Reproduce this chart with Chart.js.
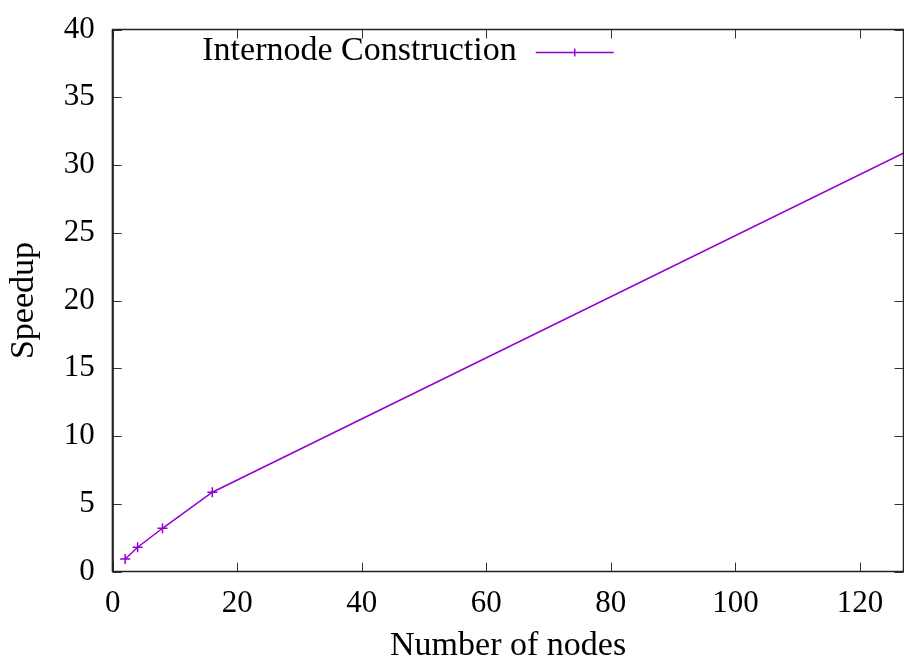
<!DOCTYPE html>
<html>
<head>
<meta charset="utf-8">
<title>Internode Construction speedup</title>
<script src="https://cdn.jsdelivr.net/npm/chart.js@4.4.1/dist/chart.umd.min.js"></script>
<style>
  html, body { margin: 0; padding: 0; background: #fff; overflow: hidden; }
  #wrap { width: 910px; height: 660px; }
</style>
</head>
<body>
<div id="wrap"><canvas id="speedup" width="910" height="660"></canvas></div>
<script>
// speedup of internode construction against node count
const nodes = [2, 4, 8, 16, 128];
const speedup = [0.92, 1.79, 3.19, 5.85, 31.1];
const xTicks = [0, 20, 40, 60, 80, 100, 120];
const yTicks = [0, 5, 10, 15, 20, 25, 30, 35, 40];
const seriesLabel = 'Internode Construction';

const lineColor = '#9400d3';
const serif = '"Liberation Serif", "Times New Roman", serif';
const tickSize = 31;
const labelSize = 34;

// gnuplot-style frame: box around the plot, ticks pointing inward, mirrored
const framePlugin = {
  id: 'frame',
  afterDraw(chart) {
    const { ctx, chartArea: a, scales: { x, y } } = chart;
    const tick = 9;
    ctx.save();
    ctx.strokeStyle = '#333';
    ctx.lineWidth = 1;
    ctx.beginPath();
    x.ticks.forEach(t => {
      const px = Math.round(x.getPixelForValue(t.value)) + 0.5;
      ctx.moveTo(px, a.bottom); ctx.lineTo(px, a.bottom - tick);
      ctx.moveTo(px, a.top); ctx.lineTo(px, a.top + tick);
    });
    y.ticks.forEach(t => {
      const py = Math.round(y.getPixelForValue(t.value)) + 0.5;
      ctx.moveTo(a.left, py); ctx.lineTo(a.left + tick, py);
      ctx.moveTo(a.right, py); ctx.lineTo(a.right - tick, py);
    });
    ctx.stroke();

    ctx.strokeStyle = '#222';
    ctx.lineWidth = 1.5;
    ctx.strokeRect(a.left, a.top, a.right - a.left, a.bottom - a.top);
    ctx.lineWidth = 2;
    ctx.beginPath();
    ctx.moveTo(a.left, a.top); ctx.lineTo(a.left, a.bottom);
    ctx.stroke();
    ctx.restore();
  }
};

// key in the top-left of the plot: label first, then the line sample
const keyPlugin = {
  id: 'key',
  afterDraw(chart) {
    const { ctx, chartArea: a } = chart;
    const ds = chart.data.datasets[0];
    const textRight = a.left + 404;
    ctx.save();
    ctx.font = labelSize + 'px ' + serif;
    ctx.fillStyle = '#000';
    ctx.textAlign = 'right';
    ctx.textBaseline = 'alphabetic';
    ctx.fillText(ds.label, textRight, a.top + 30.5);

    const x0 = textRight + 19, x1 = textRight + 97, ly = a.top + 23;
    ctx.strokeStyle = ds.borderColor;
    ctx.lineWidth = ds.borderWidth;
    ctx.beginPath();
    ctx.moveTo(x0, ly); ctx.lineTo(x1, ly);
    const cx = (x0 + x1) / 2;
    ctx.moveTo(cx, ly - 4); ctx.lineTo(cx, ly + 4);
    ctx.stroke();
    ctx.restore();
  }
};

new Chart(document.getElementById('speedup'), {
  type: 'line',
  data: {
    datasets: [{
      label: seriesLabel,
      data: nodes.map((n, i) => ({ x: n, y: speedup[i] })),
      borderColor: lineColor,
      backgroundColor: lineColor,
      borderWidth: 1.5,
      pointStyle: 'cross',
      pointRadius: 5,
      pointBorderWidth: 1.5,
      pointBorderColor: lineColor,
      tension: 0,
      fill: false
    }]
  },
  options: {
    responsive: false,
    devicePixelRatio: 1,
    animation: false,
    events: [],
    layout: { padding: { top: 29.5, right: 5, left: 0, bottom: 0 } },
    plugins: {
      legend: { display: false },
      tooltip: { enabled: false }
    },
    scales: {
      x: {
        type: 'linear',
        min: 0,
        max: 127,
        afterBuildTicks: s => { s.ticks = xTicks.map(v => ({ value: v })); },
        afterFit: s => { s.height = 88.5; },
        grid: { display: false, drawTicks: false },
        border: { display: false },
        ticks: { color: '#000', font: { family: serif, size: tickSize }, padding: 14, maxRotation: 0 },
        title: {
          display: true,
          text: 'Number of nodes',
          color: '#000',
          font: { family: serif, size: labelSize, lineHeight: 0.8 },
          padding: { top: 0, bottom: 0 }
        }
      },
      y: {
        type: 'linear',
        min: 0,
        max: 40,
        afterBuildTicks: s => { s.ticks = yTicks.map(v => ({ value: v })); },
        afterFit: s => { s.width = 112.7; },
        grid: { display: false, drawTicks: false },
        border: { display: false },
        // small lineHeight keeps the label half-height from pushing the plot top down
        ticks: { color: '#000', font: { family: serif, size: tickSize, lineHeight: 0.7 }, padding: 18 },
        title: {
          display: true,
          text: 'Speedup',
          color: '#000',
          font: { family: serif, size: labelSize, lineHeight: 1 },
          padding: { top: 7, bottom: 0 }
        }
      }
    }
  },
  plugins: [framePlugin, keyPlugin]
});
</script>
</body>
</html>
